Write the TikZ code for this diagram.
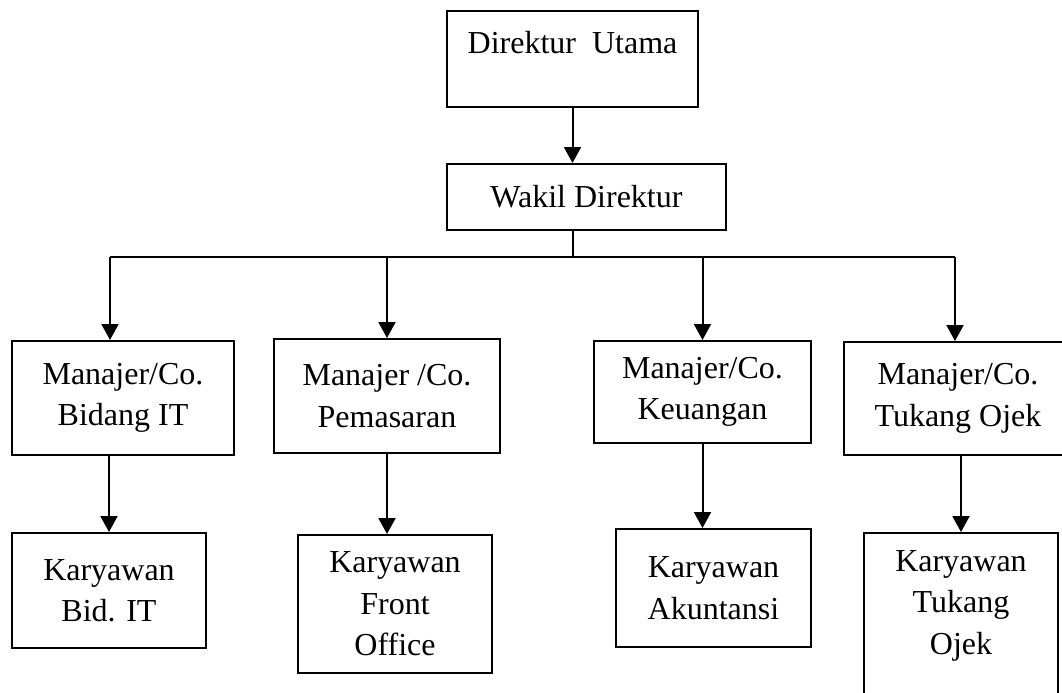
\documentclass[tikz,border=0pt]{standalone}
\usepackage{fontspec}
\setmainfont{Liberation Serif}
\usepackage{tikz}
\usetikzlibrary{positioning,arrows.meta}

\begin{document}
\begin{tikzpicture}[x=0.5pt, y=-0.5pt, font=\fontsize{16}{20.75}\selectfont,
  b/.style={draw,line width=1pt,align=center,inner sep=0pt},
  ln/.style={line width=1pt},
  arr/.style={ln,-{Triangle[length=8pt,width=8.5pt]}}]
\useasboundingbox (0,0) rectangle (1062,692);
% pimpinan
\node[b, minimum width=125.5pt, minimum height=48pt] (dir) at (572.5,59) {Direktur\ \ Utama\\[-10pt]\strut};
\node[b, minimum width=139.5pt, minimum height=33pt] (wakil) at (586.5,197) {Wakil Direktur};
% manajer
\node[b, minimum width=111pt, minimum height=57pt] (mit) at (123,398) {Manajer/Co.\\Bidang IT};
\node[b, minimum width=113pt, minimum height=57pt] (mpem) at (387,396) {Manajer /Co.\\Pemasaran};
\node[b, minimum width=108.5pt, minimum height=51pt] (mkeu) at (702.5,392) {Manajer/Co.\\Keuangan};
\node[b, minimum width=114pt, minimum height=56.5pt] (mojek) at (958,398.5) {Manajer/Co.\\Tukang Ojek};
% karyawan
\node[b, minimum width=97pt, minimum height=57.5pt] (kit) at (109,590.5) {Karyawan\\Bid. IT};
\node[b, minimum width=97pt, minimum height=69pt] (kfo) at (395,604) {Karyawan\\Front\\Office};
\node[b, minimum width=97.5pt, minimum height=59pt] (kakt) at (713.5,588) {Karyawan\\Akuntansi};
\node[b, minimum width=97pt, minimum height=96pt] (kojek) at (961,629) {Karyawan\\Tukang\\Ojek\\ \strut};
\coordinate (busL) at (110,257);
\coordinate (busR) at (955,257);
\draw[arr] (dir.south) -- (dir.south |- wakil.north);
\draw[ln] (dir.south |- wakil.south) -- (dir.south |- busL);
\draw[ln] (busL) -- (busR);
\draw[arr] (busL) -- (busL |- mit.north);
\draw[arr] (mpem.north |- busL) -- (mpem.north);
\draw[arr] (mkeu.north |- busL) -- (mkeu.north);
\draw[arr] (busR) -- (busR |- mojek.north);
\draw[arr] (kit.north |- mit.south) -- (kit.north);
\draw[arr] (mpem.south) -- (mpem.south |- kfo.north);
\draw[arr] (mkeu.south) -- (mkeu.south |- kakt.north);
\draw[arr] (kojek.north |- mojek.south) -- (kojek.north);
\end{tikzpicture}
\end{document}
